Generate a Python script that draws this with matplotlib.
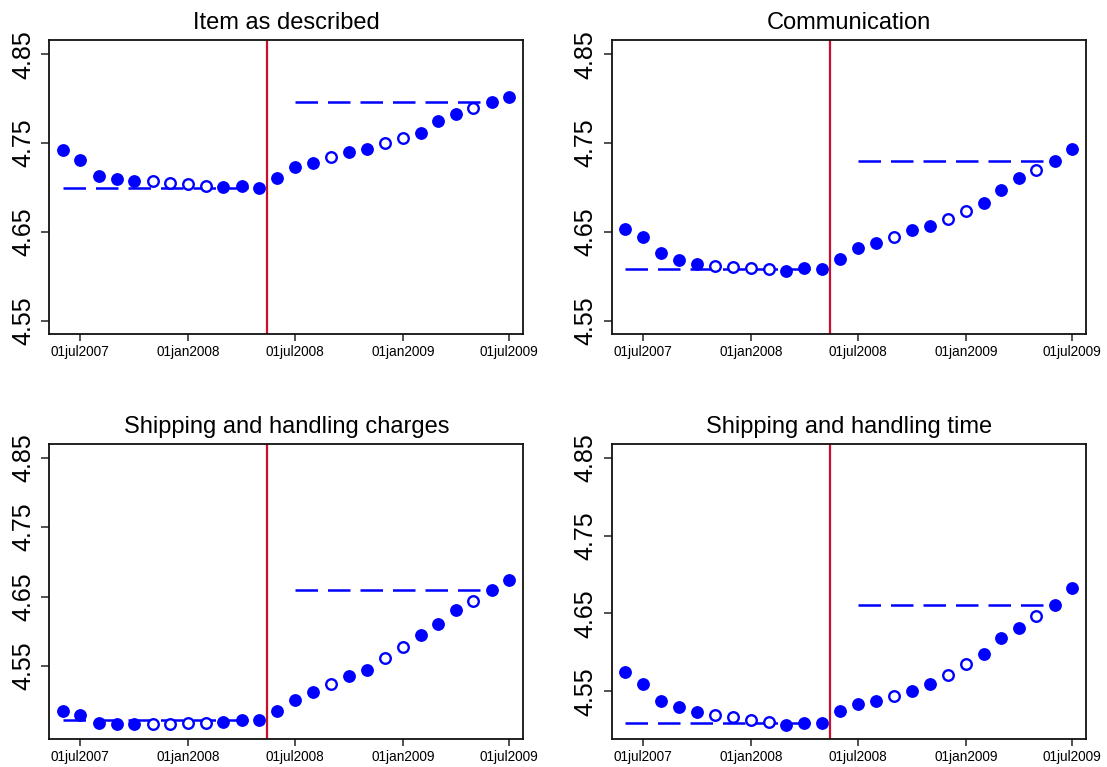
import numpy as np
import pandas as pd
import matplotlib
matplotlib.use('Agg')
from matplotlib import pyplot as plt

plt.rcParams['font.family'] = ['Liberation Sans', 'DejaVu Sans']

# monthly observations, jun2007 .. jul2009
months = pd.date_range('2007-06-01', '2009-07-01', freq='MS')
# hollow markers for these months
hollow = ['2007-11', '2007-12', '2008-01', '2008-02',
          '2008-09', '2008-12', '2009-01', '2009-05']
cutoff = pd.Timestamp('2008-05-15')

titles = ['Item as described', 'Communication',
          'Shipping and handling charges', 'Shipping and handling time']

item_desc = [4.742, 4.731, 4.713, 4.710, 4.708, 4.707, 4.705, 4.704, 4.702, 4.701, 4.702, 4.700,
             4.711, 4.723, 4.728, 4.734, 4.740, 4.744, 4.750, 4.756, 4.762, 4.775, 4.783, 4.789, 4.796, 4.802]
communication = [4.653, 4.644, 4.626, 4.619, 4.614, 4.612, 4.611, 4.610, 4.608, 4.606, 4.610, 4.609,
                 4.620, 4.632, 4.638, 4.645, 4.652, 4.657, 4.665, 4.674, 4.683, 4.697, 4.711, 4.720, 4.730, 4.743]
ship_charges = [4.486, 4.480, 4.468, 4.467, 4.466, 4.467, 4.467, 4.468, 4.468, 4.469, 4.472, 4.472,
                4.486, 4.501, 4.512, 4.524, 4.536, 4.545, 4.561, 4.577, 4.594, 4.611, 4.630, 4.644, 4.660, 4.674]
ship_time = [4.575, 4.559, 4.538, 4.530, 4.523, 4.520, 4.517, 4.513, 4.510, 4.507, 4.509, 4.509,
             4.525, 4.534, 4.538, 4.544, 4.550, 4.559, 4.571, 4.585, 4.598, 4.618, 4.631, 4.646, 4.661, 4.682]
series = [item_desc, communication, ship_charges, ship_time]

# dashed reference levels (before / after)
level_pre = [4.700, 4.609, 4.472, 4.509]
level_post = [4.796, 4.730, 4.660, 4.661]

ylims = [(4.535, 4.866), (4.535, 4.866), (4.445, 4.870), (4.4886, 4.868)]
yticks = [4.55, 4.65, 4.75, 4.85]
xticks = ['2007-07-01', '2008-01-01', '2008-07-01', '2009-01-01', '2009-07-01']
xlabels = ['01jul2007', '01jan2008', '01jul2008', '01jan2009', '01jul2009']

# axes boxes in figure fractions [left, bottom, width, height]
boxes = [[0.0445, 0.5641, 0.4282, 0.3837],
         [0.5526, 0.5641, 0.4287, 0.3837],
         [0.0445, 0.0365, 0.4282, 0.3850],
         [0.5526, 0.0365, 0.4287, 0.3850]]

fig = plt.figure(figsize=(11.07, 7.67), dpi=100)

for k in range(4):
	ax = fig.add_axes(boxes[k])
	y = np.array(series[k])
	is_hollow = np.array([m.strftime('%Y-%m') in hollow for m in months])

	#dashed lines: pre period up to the cutoff, post period jul2008..jun2009
	ax.plot([months[0], months[11]], [level_pre[k]] * 2, color='blue', lw=1.8,
	        dashes=(9, 4), zorder=1)
	ax.plot([months[13], months[24]], [level_post[k]] * 2, color='blue', lw=1.8,
	        dashes=(9, 4), zorder=1)

	ax.plot(months[~is_hollow], y[~is_hollow], 'o', color='blue', ms=8.2, zorder=3)
	ax.plot(months[is_hollow], y[is_hollow], 'o', mfc='white', mec='blue', mew=1.7,
	        ms=7.6, zorder=3)

	ax.axvline(cutoff, color='#C8102E', lw=1.6, zorder=2)

	ax.set_xlim(pd.Timestamp('2007-05-09'), pd.Timestamp('2009-07-25'))
	ax.set_ylim(ylims[k])
	ax.set_xticks(pd.to_datetime(xticks))
	ax.set_xticklabels(xlabels, fontsize=9.8)
	ax.set_yticks(yticks)
	ax.set_yticklabels(['%.2f' % v for v in yticks], fontsize=18, rotation=90, va='center')
	ax.tick_params(axis='x', direction='out', length=5, width=1.1, color='#222222', pad=3)
	ax.tick_params(axis='y', direction='out', length=6, width=1.1, color='#222222', pad=4)
	for s in ax.spines.values():
		s.set_linewidth(1.3)
		s.set_color('#111111')
	ax.set_title(titles[k], fontsize=17, pad=8)

plt.savefig('out.png', dpi=100)
